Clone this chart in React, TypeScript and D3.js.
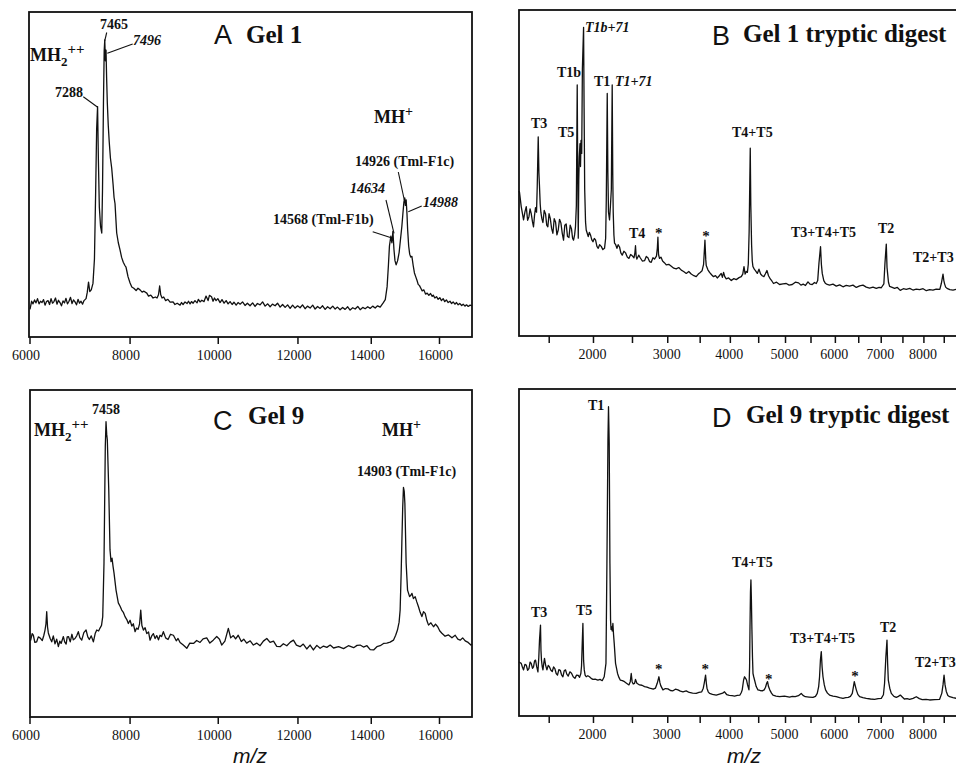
import React, { useEffect, useRef } from "react";
import * as d3 from "d3";

// [m/z, relative intensity]
const gel1Spectrum: [number, number][] = [
  [6000, 8.5], [6030, 11.0], [6056, 10.2], [6085, 11.4], [6112, 10.5], [6140, 11.8], [6169, 10.2], [6197, 11.0],
  [6225, 10.6], [6254, 11.5], [6282, 9.8], [6310, 10.9], [6339, 11.2], [6368, 10.0], [6397, 11.8], [6425, 10.4],
  [6453, 10.9], [6482, 12.0], [6511, 10.1], [6540, 11.3], [6569, 10.6], [6598, 9.6], [6628, 11.1], [6657, 10.5],
  [6686, 11.9], [6715, 10.2], [6745, 11.0], [6775, 12.2], [6805, 10.3], [6834, 11.4], [6864, 10.8], [6894, 9.9],
  [6924, 11.6], [6954, 10.4], [6984, 11.0], [7014, 10.1], [7044, 11.2], [7085, 11.8], [7110, 13.8], [7135, 16.9],
  [7160, 14.0], [7190, 14.5], [7225, 16.5], [7255, 24], [7280, 45], [7300, 64], [7319, 70.9], [7335, 55],
  [7355, 40], [7380, 34], [7405, 32], [7420, 45], [7440, 72], [7455, 88], [7467, 91.4], [7480, 85],
  [7493, 88.3], [7505, 80], [7520, 72], [7540, 65], [7560, 60], [7585, 55], [7611, 52], [7640, 47],
  [7660, 43], [7681, 41], [7700, 36], [7716, 32], [7750, 29], [7786, 26.8], [7820, 24.5], [7855, 23],
  [7890, 22], [7913, 21.5], [7935, 20], [7957, 18.5], [8000, 16.6], [8037, 15.4], [8080, 15.0], [8130, 14.3],
  [8170, 15.0], [8215, 14.5], [8260, 13.8], [8300, 14.1], [8362, 13.5], [8400, 12.6], [8450, 12.9], [8500, 12.0],
  [8550, 12.3], [8588, 12.0], [8620, 13.0], [8646, 15.7], [8670, 13.0], [8700, 12.0], [8736, 12.3], [8780, 11.2],
  [8830, 11.6], [8880, 10.7], [8947, 10.8], [8990, 10.0], [9040, 10.4], [9107, 9.8], [9140, 10.6], [9176, 10.0],
  [9220, 10.8], [9268, 10.3], [9300, 11.0], [9337, 10.2], [9370, 10.9], [9407, 10.4], [9450, 11.2], [9499, 10.5],
  [9530, 11.6], [9569, 10.8], [9610, 11.3], [9663, 10.9], [9710, 12.6], [9758, 11.2], [9790, 12.8], [9840, 12.4],
  [9876, 11.0], [9910, 12.0], [9948, 11.2], [9990, 11.8], [10044, 10.6], [10090, 11.5], [10140, 10.4], [10190, 11.2],
  [10237, 10.2], [10285, 10.9], [10335, 10.0], [10380, 10.7], [10433, 9.8], [10480, 10.6], [10531, 10.1], [10590, 10.8],
  [10652, 9.7], [10710, 10.4], [10776, 9.6], [10840, 10.5], [10901, 9.4], [10960, 10.3], [11027, 9.9], [11090, 10.8],
  [11154, 9.5], [11220, 10.2], [11281, 9.3], [11340, 10.1], [11408, 9.6], [11470, 10.4], [11537, 9.2], [11600, 10.0],
  [11666, 9.1], [11730, 9.9], [11796, 8.8], [11860, 9.8], [11925, 8.9], [11990, 9.6], [12056, 9.0], [12120, 9.9],
  [12188, 8.7], [12250, 9.5], [12321, 8.9], [12390, 9.8], [12455, 8.6], [12520, 9.4], [12589, 8.8], [12655, 9.6],
  [12724, 8.5], [12790, 9.3], [12860, 8.7], [12930, 9.5], [12996, 8.6], [13060, 9.2], [13131, 8.4], [13200, 9.1],
  [13269, 8.5], [13340, 9.3], [13407, 8.3], [13480, 9.0], [13547, 8.6], [13620, 9.4], [13687, 8.4], [13760, 9.1],
  [13827, 8.7], [13900, 9.3], [13969, 8.8], [14040, 9.5], [14111, 8.9], [14180, 9.6], [14254, 9.2], [14340, 10.5],
  [14400, 11.5], [14453, 15.5], [14490, 22], [14520, 28], [14560, 31], [14590, 29], [14620, 32.5], [14650, 27],
  [14680, 23.5], [14714, 22.2], [14757, 23.5], [14801, 26], [14840, 30], [14880, 34], [14911, 38], [14940, 41.5],
  [14965, 42.8], [14985, 40.5], [15006, 42.2], [15030, 38], [15050, 33], [15080, 28], [15110, 25.5], [15140, 24.6],
  [15175, 24.8], [15213, 22.0], [15250, 19.7], [15290, 18.5], [15330, 17.3], [15361, 16.2], [15400, 15.8], [15440, 15.0],
  [15480, 14.2], [15530, 14.5], [15580, 13.2], [15630, 13.5], [15680, 12.8], [15730, 13.4], [15780, 12.5], [15811, 12.9],
  [15860, 12.0], [15910, 12.4], [15959, 11.6], [16010, 12.1], [16060, 11.2], [16111, 11.8], [16160, 10.9], [16210, 11.4],
  [16264, 10.6], [16320, 11.0], [16370, 10.3], [16417, 10.8], [16470, 10.1], [16520, 10.6], [16571, 9.9], [16620, 10.3],
  [16680, 9.7], [16726, 10.1], [16780, 9.5], [16830, 9.9], [16882, 9.4], [16940, 9.8], [17000, 9.6],
];

const gel1DigestSpectrum: [number, number][] = [
  [1200, 44.5], [1205, 44.0], [1221, 39.7], [1243, 35.6], [1256, 38.0], [1269, 39.7], [1282, 35.5], [1295, 36.6],
  [1306, 39.0], [1317, 37.6], [1330, 35.0], [1340, 33.5], [1350, 37.0], [1360, 39.4], [1370, 38.0], [1377, 45.8],
  [1387, 61.1], [1394, 50], [1400, 45.8], [1407, 40.5], [1414, 37.9], [1424, 36.0], [1435, 34.8], [1448, 38.5],
  [1462, 37.4], [1474, 34.0], [1486, 33.5], [1498, 37.5], [1511, 36.1], [1525, 33.0], [1539, 31.5], [1553, 36.0],
  [1567, 35.0], [1582, 31.0], [1596, 32.5], [1610, 35.8], [1625, 34.7], [1640, 31.5], [1654, 29.4], [1668, 34.0],
  [1683, 34.4], [1698, 30.5], [1714, 30.2], [1728, 34.0], [1743, 32.8], [1755, 30.0], [1766, 29.4], [1778, 31.0],
  [1788, 33.5], [1798, 40], [1808, 77.0], [1814, 50], [1820, 30], [1826, 48], [1832, 55], [1840, 59],
  [1846, 52], [1852, 60], [1860, 56], [1868, 82], [1882, 94.7], [1888, 70], [1895, 45], [1905, 35],
  [1913, 32.5], [1925, 31.5], [1937, 30.5], [1950, 31.8], [1964, 31.0], [1980, 29.5], [1994, 28.9], [2010, 29.9],
  [2025, 29.5], [2042, 27.5], [2058, 26.9], [2075, 28.0], [2095, 27.5], [2115, 26.5], [2136, 26.9], [2150, 30],
  [2158, 41.7], [2170, 74.4], [2178, 50], [2186, 38], [2199, 35.6], [2210, 39.7], [2222, 45], [2233, 77.0],
  [2240, 50], [2246, 38], [2255, 31], [2263, 28.5], [2278, 28.0], [2294, 26.9], [2310, 28.0], [2328, 27.3],
  [2345, 25.5], [2363, 24.8], [2385, 26.0], [2407, 25.5], [2430, 24.2], [2452, 23.8], [2475, 25.0], [2497, 24.6],
  [2520, 24.0], [2533, 25.5], [2541, 27.7], [2550, 24.5], [2560, 23.6], [2585, 24.8], [2606, 24.0], [2635, 23.0],
  [2666, 23.1], [2690, 24.4], [2713, 24.0], [2738, 22.8], [2760, 22.6], [2785, 24.0], [2807, 23.6], [2835, 24.5],
  [2848, 27], [2856, 30.3], [2865, 25], [2879, 23.8], [2900, 24.2], [2924, 23.0], [2950, 22.5], [2978, 21.8],
  [3015, 22.0], [3053, 21.4], [3090, 20.8], [3127, 20.6], [3165, 21.0], [3204, 20.2], [3240, 19.8], [3281, 19.2],
  [3320, 19.8], [3358, 19.0], [3400, 18.5], [3437, 18.2], [3470, 19.0], [3501, 19.5], [3530, 20.0], [3555, 22],
  [3577, 29.4], [3590, 23.5], [3598, 21.6], [3625, 20.3], [3652, 19.5], [3685, 18.8], [3717, 18.2], [3750, 18.5],
  [3779, 17.8], [3810, 18.4], [3845, 19.2], [3865, 18.0], [3885, 19.5], [3905, 18.2], [3930, 17.5], [3970, 17.8],
  [4016, 17.0], [4060, 17.6], [4102, 17.3], [4150, 17.9], [4189, 18.2], [4215, 19.0], [4237, 21.3], [4257, 19.0],
  [4277, 19.8], [4297, 19.5], [4313, 22], [4328, 32], [4338, 45], [4348, 57.6], [4358, 40], [4372, 28],
  [4384, 23], [4396, 21.3], [4420, 20.5], [4444, 20.0], [4475, 19.2], [4505, 20.5], [4535, 19.0], [4564, 18.5],
  [4595, 18.2], [4620, 19.0], [4651, 20.1], [4680, 18.5], [4713, 17.5], [4745, 16.8], [4773, 16.1], [4830, 16.5],
  [4887, 15.8], [4950, 16.0], [5014, 16.1], [5070, 15.6], [5130, 15.8], [5190, 16.5], [5253, 16.3], [5300, 15.6],
  [5345, 15.9], [5390, 15.5], [5439, 16.6], [5480, 15.9], [5525, 15.8], [5570, 16.4], [5606, 16.1], [5635, 17.0],
  [5661, 22.4], [5693, 27.4], [5710, 22], [5728, 19.2], [5760, 17.0], [5790, 16.2], [5830, 15.8], [5878, 15.6],
  [5950, 15.9], [6019, 15.3], [6090, 15.7], [6161, 15.1], [6230, 15.5], [6301, 15.3], [6375, 15.6], [6447, 14.9],
  [6520, 15.4], [6593, 15.6], [6665, 15.0], [6739, 14.7], [6815, 15.0], [6889, 14.6], [6950, 14.9], [7001, 14.8],
  [7060, 16.0], [7085, 22.4], [7115, 28.2], [7132, 21], [7145, 19.2], [7165, 16.5], [7191, 15.2], [7250, 14.9],
  [7305, 14.6], [7370, 14.9], [7437, 14.0], [7510, 14.5], [7579, 14.3], [7660, 14.6], [7737, 14.1], [7815, 14.4],
  [7896, 14.2], [7980, 14.5], [8059, 13.9], [8140, 14.2], [8221, 14.1], [8300, 14.4], [8390, 14.3], [8427, 16.1],
  [8469, 19.0], [8490, 17.0], [8508, 16.0], [8535, 15.0], [8569, 14.6], [8640, 14.2], [8720, 14.1], [8804, 14.3],
  [8900, 14.0], [9000, 14.1],
];

const gel9Spectrum: [number, number][] = [
  [6000, 23.5], [6013, 23.5], [6040, 25.5], [6062, 25.0], [6090, 22.8], [6125, 23.0], [6155, 24.5], [6187, 24.2],
  [6230, 23.4], [6260, 25.0], [6282, 26.6], [6300, 28.5], [6314, 32.2], [6330, 27.5], [6345, 25.7], [6380, 24.0],
  [6410, 23.0], [6440, 24.8], [6473, 22.4], [6505, 23.8], [6538, 21.5], [6565, 23.2], [6591, 22.5], [6635, 24.6],
  [6660, 23.0], [6689, 22.3], [6710, 24.5], [6735, 24.6], [6770, 23.0], [6802, 25.3], [6830, 23.6], [6864, 24.0],
  [6900, 24.9], [6930, 26.1], [6960, 24.3], [6998, 23.5], [7040, 25.8], [7085, 26.6], [7120, 24.5], [7151, 23.7],
  [7190, 24.8], [7233, 23.0], [7270, 25.5], [7302, 26.6], [7340, 26.3], [7369, 27.2], [7400, 28.0], [7425, 30.7],
  [7451, 47], [7478, 82.7], [7493, 90.3], [7507, 86.5], [7520, 84.7], [7550, 69.4], [7576, 51.1], [7597, 47.5],
  [7618, 48.6], [7640, 46], [7660, 44], [7702, 38.8], [7750, 34.9], [7790, 33.8], [7822, 32.7], [7860, 31.9],
  [7892, 30.7], [7930, 29.8], [7963, 28.6], [8000, 29.6], [8037, 27.8], [8070, 28.5], [8107, 26.1], [8140, 27.2],
  [8172, 26.8], [8205, 28.5], [8230, 32.7], [8255, 28.0], [8288, 26.6], [8325, 27.3], [8362, 25.5], [8400, 26.0],
  [8433, 23.5], [8470, 24.8], [8507, 25.5], [8545, 24.0], [8581, 24.9], [8620, 23.6], [8655, 25.0], [8690, 24.6],
  [8729, 26.1], [8780, 24.2], [8834, 23.7], [8890, 25.3], [8955, 25.0], [9020, 23.3], [9060, 24.0], [9107, 22.8],
  [9180, 22.0], [9261, 21.0], [9330, 22.6], [9416, 22.5], [9490, 23.4], [9569, 22.8], [9640, 23.9], [9726, 24.2],
  [9800, 22.6], [9880, 23.5], [9964, 24.6], [10030, 23.8], [10083, 22.0], [10160, 23.2], [10243, 27.1], [10300, 24.2],
  [10364, 24.9], [10420, 23.9], [10484, 25.0], [10560, 23.1], [10620, 23.8], [10692, 22.6], [10780, 23.3], [10859, 22.0],
  [10940, 22.6], [11027, 21.8], [11110, 23.2], [11196, 24.0], [11280, 22.8], [11367, 23.2], [11450, 21.6], [11537, 21.5],
  [11620, 22.4], [11709, 21.8], [11800, 22.9], [11882, 23.5], [11960, 22.0], [12056, 21.5], [12140, 22.3], [12232, 20.8],
  [12320, 22.0], [12408, 20.5], [12500, 21.9], [12589, 21.0], [12680, 21.7], [12770, 21.3], [12860, 22.0], [12952, 21.1],
  [13090, 21.5], [13227, 20.9], [13360, 21.8], [13505, 21.2], [13600, 21.9], [13687, 22.0], [13780, 21.4], [13878, 21.8],
  [13970, 20.6], [14067, 20.5], [14160, 21.5], [14254, 21.8], [14350, 22.5], [14444, 22.6], [14540, 22.9], [14636, 23.5],
  [14700, 25.0], [14752, 26.6], [14800, 29.0], [14830, 32.7], [14860, 44], [14880, 53.2], [14905, 64], [14927, 70.2],
  [14950, 69], [14969, 65.3], [15006, 47], [15047, 38.8], [15107, 36.8], [15150, 37.3], [15177, 37.8], [15220, 36.2],
  [15272, 36.8], [15320, 35.2], [15370, 33.7], [15420, 32.0], [15471, 30.7], [15520, 32.2], [15570, 31.7], [15620, 29.5],
  [15670, 28.1], [15740, 28.8], [15820, 27.6], [15880, 28.4], [15946, 27.6], [16010, 26.3], [16073, 25.6], [16170, 24.7],
  [16275, 25.1], [16380, 24.2], [16479, 25.0], [16560, 23.8], [16633, 23.5], [16710, 24.2], [16788, 23.3], [16880, 22.8],
  [16966, 22.0], [17000, 22.2],
];

const gel9DigestSpectrum: [number, number][] = [
  [1200, 16.5], [1221, 16.1], [1232, 15.0], [1243, 14.1], [1256, 15.8], [1269, 15.6], [1282, 14.0], [1295, 14.5],
  [1306, 16.5], [1317, 16.1], [1330, 14.6], [1340, 15.0], [1350, 16.8], [1360, 17.1], [1372, 15.0], [1384, 13.5],
  [1393, 18], [1400, 23.2], [1410, 27.8], [1415, 20], [1420, 17.1], [1428, 15.0], [1435, 14.1], [1443, 16.0],
  [1451, 17.6], [1463, 15.5], [1476, 14.1], [1490, 15.5], [1503, 15.0], [1518, 14.0], [1532, 13.6], [1546, 15.0],
  [1560, 14.5], [1574, 13.0], [1588, 12.5], [1603, 14.2], [1618, 14.0], [1632, 12.6], [1647, 12.0], [1661, 13.8],
  [1676, 14.1], [1690, 12.8], [1706, 12.2], [1725, 13.5], [1743, 13.1], [1762, 12.0], [1782, 11.5], [1800, 12.5],
  [1820, 12.4], [1835, 11.8], [1850, 13.0], [1858, 15.3], [1866, 22], [1874, 28.3], [1882, 17], [1890, 14.1],
  [1900, 12.5], [1913, 12.0], [1932, 12.3], [1952, 12.0], [1972, 11.5], [1993, 11.2], [2020, 11.3], [2054, 11.0],
  [2080, 11.2], [2107, 10.8], [2132, 12.0], [2154, 16.1], [2166, 46.7], [2179, 84.4], [2186, 94.6], [2195, 83.4],
  [2204, 46.7], [2212, 29.4], [2218, 26.5], [2224, 27.3], [2233, 26.0], [2242, 28.3], [2250, 25], [2259, 22.2],
  [2276, 16.1], [2302, 13.0], [2320, 11.8], [2337, 11.0], [2365, 10.8], [2393, 10.5], [2420, 10.0], [2452, 9.5],
  [2470, 10.5], [2483, 13.0], [2495, 10.5], [2510, 9.8], [2528, 10.0], [2541, 11.2], [2560, 10.0], [2596, 9.5],
  [2630, 9.4], [2666, 9.0], [2700, 8.8], [2736, 8.5], [2765, 8.4], [2789, 8.2], [2820, 8.5], [2846, 10.0],
  [2871, 12.0], [2885, 10.2], [2897, 9.3], [2929, 8.0], [2965, 8.4], [3003, 8.3], [3040, 7.8], [3078, 7.7],
  [3115, 8.2], [3153, 8.0], [3190, 7.6], [3230, 7.4], [3280, 7.7], [3327, 7.2], [3380, 7.0], [3437, 6.9],
  [3480, 7.2], [3525, 7.4], [3550, 8.5], [3565, 10.0], [3587, 12.5], [3600, 10.0], [3610, 8.5], [3630, 7.4],
  [3652, 6.9], [3700, 6.6], [3762, 6.4], [3830, 6.8], [3870, 7.0], [3901, 7.4], [3940, 6.5], [3981, 6.3],
  [4030, 6.2], [4072, 6.1], [4120, 6.3], [4166, 6.4], [4190, 7.2], [4206, 8.0], [4230, 11], [4247, 12.0],
  [4265, 11.5], [4282, 11.0], [4300, 9.5], [4325, 8.0], [4336, 15], [4343, 26.3], [4352, 38], [4360, 41.6],
  [4368, 36], [4378, 26.3], [4388, 18], [4397, 13.0], [4410, 12.0], [4425, 11.0], [4455, 9.0], [4486, 8.0],
  [4525, 7.8], [4565, 7.7], [4600, 8.0], [4625, 8.8], [4645, 10.0], [4662, 10.5], [4680, 9.0], [4703, 8.0],
  [4735, 7.0], [4763, 6.4], [4820, 6.1], [4887, 5.9], [4980, 6.1], [5078, 5.8], [5130, 6.0], [5188, 5.9],
  [5250, 6.2], [5306, 6.9], [5340, 6.3], [5386, 5.9], [5460, 5.8], [5540, 5.7], [5590, 6.0], [5626, 6.9],
  [5655, 9], [5673, 12.0], [5690, 17], [5708, 19.7], [5725, 15], [5743, 12.0], [5770, 9.5], [5796, 8.0],
  [5835, 7.0], [5878, 6.4], [5950, 6.1], [6019, 5.9], [6090, 5.6], [6161, 5.4], [6220, 5.6], [6274, 5.7],
  [6320, 6.0], [6360, 6.9], [6385, 9.0], [6403, 10.5], [6425, 9.2], [6447, 8.0], [6480, 6.6], [6519, 5.9],
  [6590, 5.6], [6665, 5.4], [6760, 5.2], [6851, 5.1], [6930, 5.3], [7001, 5.4], [7050, 6.5], [7076, 10.0],
  [7105, 18], [7131, 23.2], [7146, 16], [7161, 11.0], [7195, 8.5], [7230, 6.9], [7290, 6.0], [7345, 5.7],
  [7395, 6.0], [7439, 6.4], [7485, 5.8], [7533, 5.2], [7600, 5.3], [7657, 5.1], [7740, 5.4], [7817, 5.9],
  [7890, 5.3], [7960, 5.0], [8050, 5.1], [8138, 4.9], [8260, 5.0], [8385, 5.1], [8440, 7.0], [8469, 9.5],
  [8495, 12.5], [8520, 9.5], [8551, 7.5], [8590, 6.3], [8634, 5.9], [8720, 5.6], [8804, 5.4], [8900, 5.5],
  [9000, 5.5],
];

const intactTicks = [6000, 8000, 10000, 12000, 14000, 16000];
const digestTicks = [1500, 2000, 2500, 3000, 3500, 4000, 4500, 5000, 5500, 6000, 6500, 7000, 7500, 8000, 8500, 9000];
const digestTickLabels = [2000, 3000, 4000, 5000, 6000, 7000, 8000];

const SERIF = "'Liberation Serif', 'Times New Roman', serif";
const SANS = "'Liberation Sans', Arial, sans-serif";

type Part = { t: string; size?: number; dy?: number };
type Note = { x: number; y: number; parts: Part[]; size?: number; italic?: boolean; sans?: boolean; normal?: boolean; anchor?: string };

const txt = (x: number, y: number, t: string, o: Partial<Note> = {}): Note => ({ x, y, parts: [{ t }], ...o });
const mh2 = (x: number, y: number): Note => ({ x, y, size: 18, parts: [{ t: "MH" }, { t: "2", size: 13, dy: 5 }, { t: "++", size: 15, dy: -12 }] });
const mh = (x: number, y: number): Note => ({ x, y, size: 18, parts: [{ t: "MH" }, { t: "+", size: 14, dy: -7 }] });
const star = (x: number, y: number): Note => txt(x, y, "*", { anchor: "middle", size: 15 });

const panels = [
  {
    data: gel1Spectrum, domain: [6000, 17000], range: [30, 472], left: 29, right: 472, top: 12, bottom: 337,
    ticks: intactTicks, labels: intactTicks, labelDx: -4,
    notes: [
      txt(214, 44, "A", { sans: true, normal: true, size: 27 }), txt(246, 43, "Gel 1", { size: 25 }),
      mh2(30, 61), txt(114, 29, "7465", { anchor: "middle" }), txt(133, 45, "7496", { italic: true }),
      txt(55, 97, "7288"), mh(374, 123), txt(355, 166, "14926 (Tml-F1c)"), txt(350, 193, "14634", { italic: true }),
      txt(273, 224, "14568 (Tml-F1b)"), txt(423, 207, "14988", { italic: true }),
    ],
    leaders: [[106.7, 32.5, 104.7, 41], [107.3, 53.3, 132.7, 44], [83.3, 96.7, 97.7, 107.3], [398.3, 172, 404.3, 200],
      [386, 200, 394, 233.3], [372.7, 231.7, 392.7, 238.3], [408.3, 211.7, 421.7, 206]],
  },
  {
    data: gel1DigestSpectrum, domain: [1200, 9000], range: [519, 964], left: 519, right: 966, top: 10, bottom: 336,
    ticks: digestTicks, labels: digestTickLabels, labelDx: -1,
    notes: [
      txt(712, 45, "B", { sans: true, normal: true, size: 27 }), txt(743, 42, "Gel 1 tryptic digest", { size: 25 }),
      txt(585, 32, "T1b+71", { italic: true }), txt(557, 77, "T1b"), txt(594, 86, "T1"), txt(615, 86, "T1+71", { italic: true }),
      txt(531, 128, "T3"), txt(558, 137, "T5"), txt(732, 137, "T4+T5"), txt(629, 238, "T4"),
      star(658.7, 238), star(706, 241),
      txt(791, 237, "T3+T4+T5"), txt(878, 233, "T2"), txt(913, 262, "T2+T3"),
    ],
    leaders: [],
  },
  {
    data: gel9Spectrum, domain: [6000, 17000], range: [30, 472], left: 30, right: 472, top: 390, bottom: 717,
    ticks: intactTicks, labels: intactTicks, labelDx: -4,
    notes: [
      txt(213, 430, "C", { sans: true, normal: true, size: 27 }), txt(248, 424, "Gel 9", { size: 25 }),
      txt(92, 414, "7458"), mh2(34, 436), mh(382, 436), txt(357, 476, "14903 (Tml-F1c)"),
      txt(250, 763, "m/z", { sans: true, normal: true, italic: true, size: 21, anchor: "middle" }),
    ],
    leaders: [],
  },
  {
    data: gel9DigestSpectrum, domain: [1200, 9000], range: [519, 964], left: 519, right: 966, top: 389, bottom: 716,
    ticks: digestTicks, labels: digestTickLabels, labelDx: -1,
    notes: [
      txt(712, 427, "D", { sans: true, normal: true, size: 27 }), txt(746, 423, "Gel 9 tryptic digest", { size: 25 }),
      txt(588, 410, "T1"), txt(531, 617, "T3"), txt(576, 615, "T5"), txt(732, 567, "T4+T5"),
      star(658.7, 674), star(705.3, 674), star(768.7, 684), star(855, 681),
      txt(790, 643, "T3+T4+T5"), txt(880, 632, "T2"), txt(915, 667, "T2+T3"),
      txt(744, 763, "m/z", { sans: true, normal: true, italic: true, size: 21, anchor: "middle" }),
    ],
    leaders: [],
  },
];

function Figure() {
  const ref = useRef<SVGSVGElement>(null);

  useEffect(() => {
    const svg = d3.select(ref.current);
    svg.selectAll("*").remove();

    panels.forEach((p) => {
      const x = d3.scaleSqrt().domain(p.domain).range(p.range);
      const y = d3.scaleLinear().domain([0, 100]).range([p.bottom, p.top]);
      const g = svg.append("g");

      const line = d3.line<[number, number]>().x((d) => x(d[0])).y((d) => y(d[1]));
      g.append("path")
        .datum(p.data)
        .attr("d", line)
        .attr("fill", "none")
        .attr("stroke", "#111")
        .attr("stroke-width", 1.3)
        .attr("stroke-linejoin", "round");

      g.append("rect")
        .attr("x", p.left).attr("y", p.top)
        .attr("width", p.right - p.left).attr("height", p.bottom - p.top)
        .attr("fill", "none").attr("stroke", "#111").attr("stroke-width", 1.8);

      g.selectAll(".tick").data(p.ticks).join("line")
        .attr("x1", (d) => x(d)).attr("x2", (d) => x(d))
        .attr("y1", p.bottom).attr("y2", p.bottom + 7)
        .attr("stroke", "#111").attr("stroke-width", 1.5);

      g.selectAll(".lbl").data(p.labels).join("text")
        .attr("x", (d) => x(d) + p.labelDx)
        .attr("y", p.bottom + 23)
        .attr("text-anchor", "middle")
        .attr("font-family", SERIF)
        .attr("font-size", 14)
        .attr("fill", "#111")
        .text((d) => String(d));

      g.selectAll(".leader").data(p.leaders).join("line")
        .attr("x1", (d) => d[0]).attr("y1", (d) => d[1])
        .attr("x2", (d) => d[2]).attr("y2", (d) => d[3])
        .attr("stroke", "#111").attr("stroke-width", 1.1);

      p.notes.forEach((n) => {
        const t = g.append("text")
          .attr("x", n.x).attr("y", n.y)
          .attr("text-anchor", n.anchor || "start")
          .attr("font-family", n.sans ? SANS : SERIF)
          .attr("font-weight", n.normal ? "normal" : "bold")
          .attr("font-style", n.italic ? "italic" : "normal")
          .attr("font-size", n.size || 14)
          .attr("fill", "#111");
        n.parts.forEach((pt) => {
          t.append("tspan")
            .attr("dy", pt.dy || 0)
            .attr("font-size", pt.size || n.size || 14)
            .text(pt.t);
        });
      });
    });
  }, []);

  return (
    <svg ref={ref} width={956} height={770}
      style={{ position: "absolute", left: 0, top: 0, background: "#fff" }} />
  );
}

export default function App() {
  return <Figure />;
}
